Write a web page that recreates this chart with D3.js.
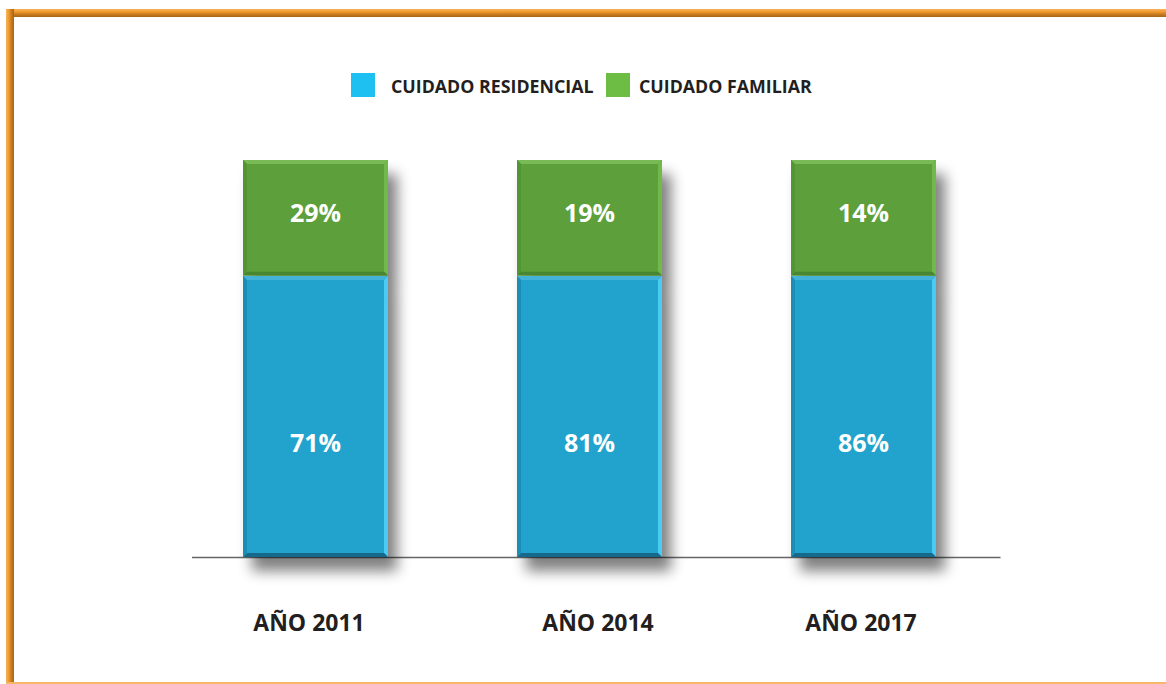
<!DOCTYPE html>
<html>
<head>
<meta charset="utf-8">
<script src="https://cdn.jsdelivr.net/npm/d3@7"></script>
<style>
  html, body { margin: 0; padding: 0; background: #fff; }
  svg { display: block; }
  text { font-family: "Open Sans", "DejaVu Sans", sans-serif; }
</style>
</head>
<body>
<svg id="chart" width="1166" height="684"></svg>
<script>
// ---- data ----
const categories = ["AÑO 2011", "AÑO 2014", "AÑO 2017"];
const seriesNames = ["CUIDADO RESIDENCIAL", "CUIDADO FAMILIAR"];
const residencial = [71, 81, 86];
const familiar = [29, 19, 14];

// ---- styles ----
const faceColors = ["#21a3cd", "#5b9f3b"];
const legendColors = ["#1ec0f1", "#6dbd45"];
const bevel = [
  { top: "#45b3d8", right: "#4ccaf3", bottom: "#17698a", left: "#1b8db4" },
  { top: "#79b957", right: "#72b94c", bottom: "#4a8630", left: "#539435" }
];

const svg = d3.select("#chart");
const W = 1166, H = 684;

// defs: shadow, frame gradients
const defs = svg.append("defs");
const f = defs.append("filter").attr("id", "shadow")
  .attr("x", "-30%").attr("y", "-10%").attr("width", "160%").attr("height", "130%");
f.append("feGaussianBlur").attr("in", "SourceAlpha").attr("stdDeviation", 7).attr("result", "b");
f.append("feOffset").attr("in", "b").attr("dx", 9).attr("dy", 14).attr("result", "o");
f.append("feComponentTransfer").attr("in", "o").attr("result", "s")
  .append("feFuncA").attr("type", "linear").attr("slope", 0.5);
const fm = f.append("feMerge");
fm.append("feMergeNode").attr("in", "s");
fm.append("feMergeNode").attr("in", "SourceGraphic");

function frameGrad(id, horizontal) {
  const g = defs.append("linearGradient").attr("id", id)
    .attr("x1", 0).attr("y1", 0).attr("x2", horizontal ? 1 : 0).attr("y2", horizontal ? 0 : 1);
  g.append("stop").attr("offset", "0").attr("stop-color", "#f7b35a");
  g.append("stop").attr("offset", "0.35").attr("stop-color", "#ef9a2e");
  g.append("stop").attr("offset", "0.7").attr("stop-color", "#c4781d");
  g.append("stop").attr("offset", "1").attr("stop-color", "#a96616");
}
frameGrad("frameTop", false);
frameGrad("frameLeft", true);

// frame
svg.append("rect").attr("x", 6).attr("y", 9).attr("width", W - 6).attr("height", 8).attr("fill", "url(#frameTop)");
svg.append("rect").attr("x", 6).attr("y", 9).attr("width", 8).attr("height", H - 9).attr("fill", "url(#frameLeft)");
svg.append("rect").attr("x", 6).attr("y", 682).attr("width", W - 6).attr("height", 2).attr("fill", "#f5b668");

// scales
const x = d3.scalePoint().domain(categories).range([315.5, 863.5]);
// bars are drawn with equal-height segments (not to value scale): layer boundaries
const yLayer = d3.scaleLinear().domain([0, 1, 2]).range([557, 275.5, 160]);

const stackData = categories.map((c, i) => ({ cat: c, values: [residencial[i], familiar[i]] }));

// baseline
svg.append("line")
  .attr("x1", 192).attr("x2", 1000.5)
  .attr("y1", yLayer(0) + 0.5).attr("y2", yLayer(0) + 0.5)
  .attr("stroke", "#666").attr("stroke-width", 1.6);

const bw = 145;
const groups = svg.append("g").selectAll("g.bar").data(stackData).join("g")
  .attr("class", "bar")
  .attr("filter", "url(#shadow)");

groups.each(function(d) {
  const g = d3.select(this);
  const cx = x(d.cat);
  const x0 = cx - bw / 2, x1 = cx + bw / 2;
  d.values.forEach((v, k) => {
    const yb = yLayer(k), yt = yLayer(k + 1);
    const ytop = k === 1 ? yt : yt + 0.5;
    const b = 4, bv = bevel[k];
    g.append("rect").attr("x", x0).attr("y", ytop).attr("width", bw).attr("height", yb - ytop).attr("fill", faceColors[k]);
    g.append("polygon").attr("fill", bv.top)
      .attr("points", [[x0, ytop], [x1, ytop], [x1 - b, ytop + b], [x0 + b, ytop + b]].join(" "));
    g.append("polygon").attr("fill", bv.right)
      .attr("points", [[x1, ytop], [x1, yb], [x1 - b, yb - b], [x1 - b, ytop + b]].join(" "));
    g.append("polygon").attr("fill", bv.bottom)
      .attr("points", [[x0, yb], [x1, yb], [x1 - b, yb - b], [x0 + b, yb - b]].join(" "));
    g.append("polygon").attr("fill", bv.left)
      .attr("points", [[x0, ytop], [x0 + b, ytop + b], [x0 + b, yb - b], [x0, yb]].join(" "));
    g.append("rect").attr("x", x0 + b).attr("y", ytop + b).attr("width", bw - 2 * b).attr("height", yb - ytop - 2 * b).attr("fill", faceColors[k]);
  });
});

// value labels
const labels = svg.append("g");
stackData.forEach(d => {
  const cx = x(d.cat);
  d.values.forEach((v, k) => {
    const ym = (yLayer(k) + yLayer(k + 1)) / 2;
    labels.append("text")
      .attr("x", cx).attr("y", k === 1 ? ym - 5 : ym + 27)
      .attr("dy", "0.36em")
      .attr("text-anchor", "middle")
      .attr("fill", "#fff").attr("font-weight", 700).attr("font-size", 25)
      .text(v + "%");
  });
});

// category axis labels
const labelShift = [-7, 8, -3];
const xAxis = d3.axisBottom(x).tickSize(0).tickPadding(0);
const ax = svg.append("g").attr("transform", "translate(0,631)").call(xAxis);
ax.select(".domain").remove();
ax.selectAll("text")
  .attr("font-family", "'Open Sans', sans-serif")
  .attr("font-size", 23).attr("font-weight", 700).attr("fill", "#231f20")
  .attr("dy", "0")
  .attr("dx", (d, i) => labelShift[i]);

// legend
const legendItems = [
  { name: seriesNames[0], color: legendColors[0], sx: 351, tx: 391 },
  { name: seriesNames[1], color: legendColors[1], sx: 606, tx: 639 }
];
const lg = svg.append("g");
legendItems.forEach(it => {
  lg.append("rect").attr("x", it.sx).attr("y", 73).attr("width", 24).attr("height", 24).attr("fill", it.color);
  lg.append("text").attr("x", it.tx).attr("y", 92.5)
    .attr("font-size", 17.8).attr("font-weight", 700).attr("fill", "#231f20")
    .text(it.name);
});
</script>
</body>
</html>
